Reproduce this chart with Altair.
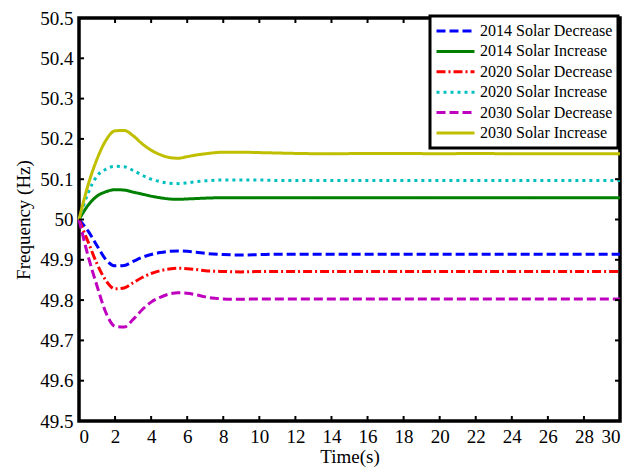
import altair as alt
import pandas as pd

# ---- data ----
time_s = [0, 0.5, 1, 1.5, 2, 2.5, 3, 3.5, 4, 4.5, 5, 5.5, 6, 6.5, 7, 8, 9, 10, 11, 12,
          14, 16, 18, 20, 22, 24, 26, 28, 30]

dec_2014 = [50.0, 49.972, 49.935, 49.900, 49.885, 49.886, 49.896, 49.906, 49.913, 49.918,
            49.921, 49.922, 49.921, 49.919, 49.916, 49.913, 49.912, 49.913, 49.914, 49.914,
            49.914, 49.914, 49.914, 49.914, 49.914, 49.914, 49.914, 49.914, 49.914]
inc_2014 = [50.0, 50.035, 50.058, 50.069, 50.074, 50.073, 50.068, 50.063, 50.058, 50.054,
            50.051, 50.050, 50.051, 50.052, 50.053, 50.054, 50.054, 50.054, 50.054, 50.054,
            50.054, 50.054, 50.054, 50.054, 50.054, 50.054, 50.054, 50.054, 50.054]
dec_2020 = [50.0, 49.945, 49.890, 49.848, 49.828, 49.830, 49.843, 49.856, 49.866, 49.873,
            49.877, 49.879, 49.878, 49.876, 49.873, 49.871, 49.870, 49.871, 49.871, 49.871,
            49.871, 49.871, 49.871, 49.871, 49.871, 49.871, 49.871, 49.871, 49.871]
inc_2020 = [50.0, 50.065, 50.108, 50.125, 50.132, 50.131, 50.122, 50.110, 50.100, 50.094,
            50.090, 50.089, 50.091, 50.094, 50.096, 50.098, 50.098, 50.098, 50.097, 50.097,
            50.097, 50.097, 50.097, 50.097, 50.097, 50.097, 50.097, 50.097, 50.097]
dec_2030 = [50.0, 49.910, 49.835, 49.768, 49.735, 49.733, 49.752, 49.776, 49.795, 49.807,
            49.815, 49.818, 49.817, 49.813, 49.808, 49.803, 49.802, 49.803, 49.803, 49.803,
            49.803, 49.803, 49.803, 49.803, 49.803, 49.803, 49.803, 49.803, 49.803]
inc_2030 = [50.0, 50.085, 50.150, 50.197, 50.220, 50.221, 50.208, 50.188, 50.172, 50.161,
            50.154, 50.152, 50.156, 50.160, 50.163, 50.167, 50.167, 50.166, 50.165, 50.164,
            50.163, 50.164, 50.164, 50.163, 50.164, 50.163, 50.163, 50.163, 50.163]

series_names = ["2014 Solar Decrease", "2014 Solar Increase", "2020 Solar Decrease",
                "2020 Solar Increase", "2030 Solar Decrease", "2030 Solar Increase"]
series_values = [dec_2014, inc_2014, dec_2020, inc_2020, dec_2030, inc_2030]
series_colors = ["#0000FF", "#008000", "#FF0000", "#00BFBF", "#BF00BF", "#BFBF00"]
series_dashes = [[9, 4], [1, 0], [9, 3, 2, 3], [3, 4], [9, 4], [1, 0]]

x_ticks = list(range(0, 31, 2))
y_ticks = [49.5, 49.6, 49.7, 49.8, 49.9, 50.0, 50.1, 50.2, 50.3, 50.4, 50.5]

rows = []
for name, vals in zip(series_names, series_values):
    for t, v in zip(time_s, vals):
        rows.append({"t": t, "f": v, "s": name})
df = pd.DataFrame(rows)

W, H = 541, 403
FONT = "Liberation Serif"

xs = alt.Scale(domain=[0, 30], nice=False, zero=False)
ys = alt.Scale(domain=[49.5, 50.5], nice=False, zero=False)

x_axis = alt.Axis(values=x_ticks, tickSize=0, domain=False, grid=False,
                  labelPadding=6, titlePadding=1, format="d")
y_axis = alt.Axis(values=y_ticks, tickSize=0, domain=False, grid=False,
                  labelPadding=6, titlePadding=6,
                  labelExpr="datum.value == 50 ? '50' : format(datum.value, '.1f')")

lines = alt.Chart(df).mark_line(strokeWidth=3, interpolate="monotone").encode(
    x=alt.X("t:Q", scale=xs, title="Time(s)", axis=x_axis),
    y=alt.Y("f:Q", scale=ys, title="Frequency (Hz)", axis=y_axis),
    color=alt.Color("s:N", scale=alt.Scale(domain=series_names, range=series_colors),
                    title=None,
                    legend=alt.Legend(orient="none", legendX=351, legendY=-2,
                                      symbolType="stroke", symbolSize=1444,
                                      symbolStrokeWidth=3, labelFont=FONT, labelFontSize=16,
                                      labelColor="black", labelOffset=4,
                                      strokeColor="black", fillColor="white",
                                      padding=5, rowPadding=0.4, clipHeight=20)),
    strokeDash=alt.StrokeDash("s:N", scale=alt.Scale(domain=series_names, range=series_dashes),
                              title=None, legend=alt.Legend(orient="none", legendX=351, legendY=-2)),
)

xt = pd.DataFrame({"t": x_ticks})
yt = pd.DataFrame({"f": y_ticks})
tick_len = 5
bottom_ticks = alt.Chart(xt).mark_rule(color="black", strokeWidth=2).encode(
    x=alt.X("t:Q", scale=xs, title="Time(s)", axis=x_axis), y=alt.value(H), y2=alt.value(H - tick_len))
top_ticks = alt.Chart(xt).mark_rule(color="black", strokeWidth=2).encode(
    x=alt.X("t:Q", scale=xs, title="Time(s)", axis=x_axis), y=alt.value(0), y2=alt.value(tick_len))
left_ticks = alt.Chart(yt).mark_rule(color="black", strokeWidth=2).encode(
    y=alt.Y("f:Q", scale=ys, title="Frequency (Hz)", axis=y_axis), x=alt.value(0), x2=alt.value(tick_len))
right_ticks = alt.Chart(yt).mark_rule(color="black", strokeWidth=2).encode(
    y=alt.Y("f:Q", scale=ys, title="Frequency (Hz)", axis=y_axis), x=alt.value(W), x2=alt.value(W - tick_len))

chart = alt.layer(lines, bottom_ticks, top_ticks, left_ticks, right_ticks).properties(
    width=W, height=H,
    autosize=alt.AutoSizeParams(type="none"),
    padding={"left": 71, "top": 10, "right": 9, "bottom": 49},
    background="white",
).configure_view(
    stroke="black", strokeWidth=3.5
).configure_axis(
    labelFont=FONT, labelFontSize=19, labelColor="black",
    titleFont=FONT, titleFontSize=19, titleColor="black", titleFontWeight="normal",
).configure_legend(
    strokeWidth=3, cornerRadius=0
)

chart.save("out.html", embed_options={"renderer": "svg", "actions": False})
